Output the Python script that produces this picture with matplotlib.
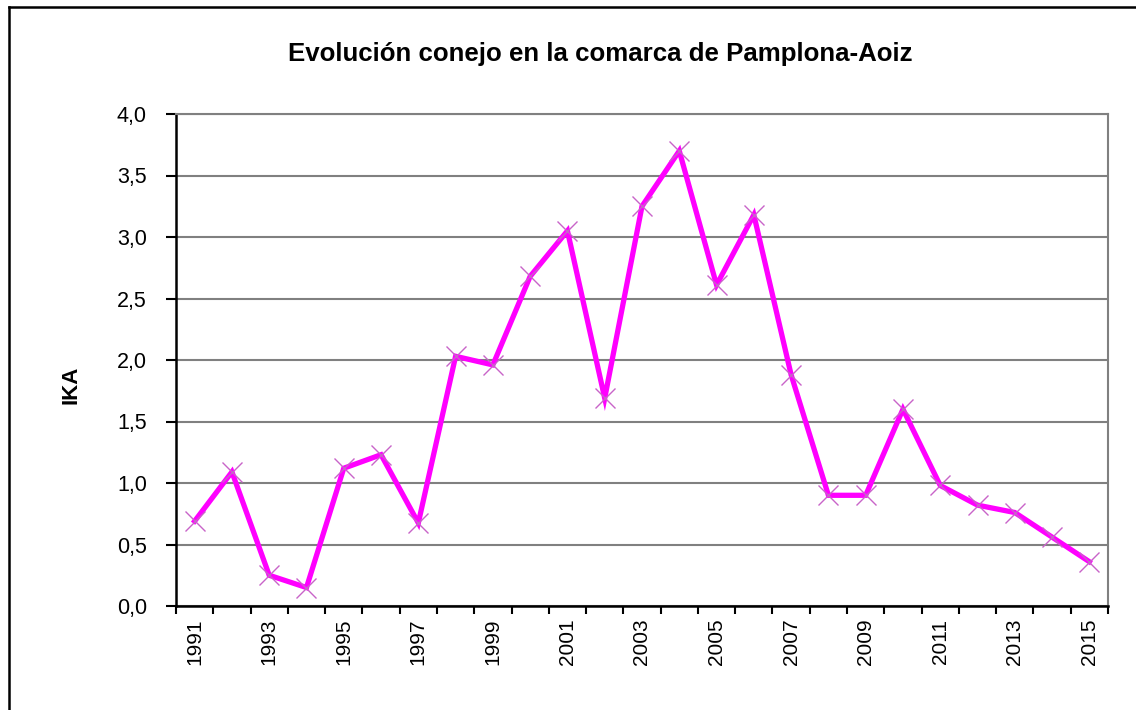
import matplotlib
matplotlib.use("Agg")
import matplotlib.pyplot as plt
from matplotlib.lines import Line2D

years = list(range(1991, 2016))
ika = [0.69, 1.09, 0.25, 0.15, 1.12, 1.23, 0.675, 2.03, 1.96, 2.68, 3.05, 1.69,
       3.25, 3.70, 2.61, 3.18, 1.88, 0.90, 0.90, 1.60, 0.98, 0.82, 0.76, 0.56, 0.36]
y_ticks = [0.0, 0.5, 1.0, 1.5, 2.0, 2.5, 3.0, 3.5, 4.0]
title = "Evolución conejo en la comarca de Pamplona-Aoiz"
ylabel = "IKA"

plt.rcParams['font.family'] = ['Liberation Sans', 'DejaVu Sans']

W, H = 1136, 710
fig = plt.figure(figsize=(W / 100, H / 100), dpi=100)
fig.patch.set_facecolor('white')

ax = fig.add_axes([176 / W, 1 - 606 / H, (1108 - 176) / W, (606 - 114) / H])

x = list(range(len(years)))
ax.plot(x, ika, color='#FF00FF', linewidth=3.8, zorder=3, solid_joinstyle='miter')
ax.plot(x, ika, linestyle='none', marker='x', markersize=15, markeredgewidth=1.0,
        color='#C864C8', zorder=4)

ax.set_xlim(-0.5, len(years) - 0.5)
ax.set_ylim(0, 4.0)
ax.set_yticks(y_ticks)
ax.set_yticklabels([f"{v:.1f}".replace('.', ',') for v in y_ticks], fontsize=15.5)

# category ticks at boundaries, labels at every other category
ax.set_xticks([i - 0.5 for i in range(len(years) + 1)], minor=False)
ax.set_xticklabels([])
ax.set_xticks(x[::2], minor=True)
ax.set_xticklabels([str(y) for y in years[::2]], minor=True, rotation=90, fontsize=15)
ax.tick_params(axis='x', which='minor', length=0, pad=9)
ax.tick_params(axis='x', which='major', length=6, width=1.5, color='black', direction='out')
ax.tick_params(axis='y', length=7, width=1.5, color='black', direction='out', pad=14)

ax.yaxis.grid(True, color='#808080', linewidth=1.5)
ax.set_axisbelow(True)
for s in ['left', 'bottom']:
    ax.spines[s].set_color('black')
    ax.spines[s].set_linewidth(1.8)
for s in ['right', 'top']:
    ax.spines[s].set_color('#808080')
    ax.spines[s].set_linewidth(1.5)

fig.text(600 / W, 1 - 54 / H, title, ha='center', va='center', fontsize=18.6, fontweight='bold')
fig.text(71 / W, 1 - 385 / H, ylabel, ha='center', va='center', rotation=90,
         fontsize=16, fontweight='bold')

# outer chart border (left and top visible)
fig.add_artist(Line2D([9 / W, 9 / W], [0, 1 - 7 / H], color='black', linewidth=1.8,
                      transform=fig.transFigure))
fig.add_artist(Line2D([9 / W, 1], [1 - 7 / H, 1 - 7 / H], color='black', linewidth=1.8,
                      transform=fig.transFigure))

fig.savefig('out.png', dpi=100, facecolor='white')
